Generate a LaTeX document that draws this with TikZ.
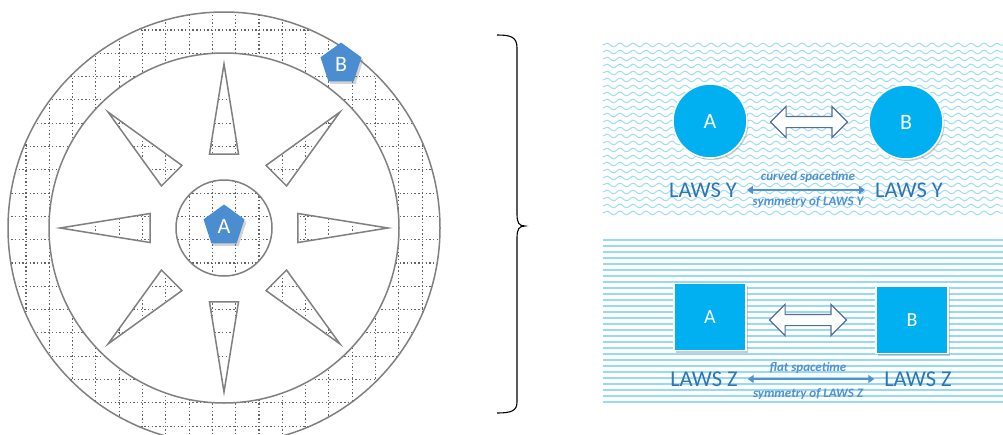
\documentclass[tikz,border=0pt]{standalone}
\usepackage{fontspec}
\setmainfont{Carlito}
\usetikzlibrary{shapes.geometric,shapes.arrows,shadows,decorations.pathmorphing,arrows.meta}
\definecolor{compassgray}{RGB}{128,128,128}
\definecolor{gridgray}{RGB}{100,100,100}
\definecolor{pentblue}{RGB}{74,141,208}
\definecolor{cyanfill}{RGB}{0,176,240}
\definecolor{lawsblue}{RGB}{46,117,182}
\definecolor{smallblue}{RGB}{80,145,208}
\definecolor{hollowedge}{RGB}{84,110,150}
\definecolor{waveblue}{RGB}{160,222,248}
\definecolor{lineblue}{RGB}{150,218,246}
\newcommand{\compassgrid}{%
  \foreach \k in {-10,...,9}{%
    \draw[gridline] ({235.65+\k*23.3},0) -- ({235.65+\k*23.3},460);
    \draw[gridline] (0,{239.65+\k*23.3}) -- (460,{239.65+\k*23.3});
  }}
\tikzset{
  gridline/.style={draw=gridgray, line width=1.1pt, dash pattern=on 1.4pt off 2.3pt},
  compass/.style={draw=compassgray, line width=1.5pt},
  pent/.style={regular polygon, regular polygon sides=5, minimum size=43pt, inner sep=0pt,
    fill=pentblue, text=white, font=\fontsize{22}{22}\selectfont,
    drop shadow={shadow xshift=2pt, shadow yshift=-2.5pt, opacity=0.35}},
  ball/.style={circle, minimum size=74pt, inner sep=0pt, fill=cyanfill, draw=white, line width=1.5pt,
    text=white, font=\fontsize{22}{22}\selectfont,
    drop shadow={shadow xshift=1.5pt, shadow yshift=-2pt, opacity=0.4}},
  box/.style={rectangle, minimum width=72pt, minimum height=67pt, inner sep=0pt, fill=cyanfill,
    draw=white, line width=1.5pt, text=white, font=\fontsize{20}{20}\selectfont,
    drop shadow={shadow xshift=1.5pt, shadow yshift=-2pt, opacity=0.4}},
  hollow/.style={double arrow, draw=hollowedge, line width=1.1pt, fill=white, inner xsep=0pt,
    inner ysep=5pt, minimum height=77pt, double arrow head extend=10pt, double arrow head indent=0pt},
  laws/.style={text=lawsblue, font=\fontsize{22.5}{22.5}\selectfont, inner sep=0pt, outer sep=10pt},
  small/.style={text=smallblue, font=\fontsize{13}{13}\selectfont\bfseries\itshape, inner sep=0pt},
  thinarrow/.style={draw=smallblue, line width=2pt, {Triangle[length=6pt,width=8pt]}-{Triangle[length=6pt,width=8pt]}},
  wave/.style={draw=waveblue, line width=1pt, decorate, decoration={snake, segment length=13pt, amplitude=1.8pt}},
  stripe/.style={draw=lineblue, line width=1.3pt}
}
\begin{document}
\begin{tikzpicture}[x=1pt,y=-1pt]
\useasboundingbox (0,0) rectangle (1003,434);
\coordinate (C) at (224,228);
% ring grid
\begin{scope}
  \clip (C) circle (216pt);
  \compassgrid
\end{scope}
\fill[white] (C) circle (175pt);
% centre grid
\begin{scope}
  \clip (C) circle (48pt);
  \compassgrid
\end{scope}
% spikes
\foreach \a in {0,45,...,315}{
  \begin{scope}
    \clip ([shift={(\a:164pt)}]C) -- ([shift={(\a+11.09:75.4pt)}]C) -- ([shift={(\a-11.09:75.4pt)}]C) -- cycle;
    \compassgrid
  \end{scope}
  \draw[compass, line join=miter] ([shift={(\a:164pt)}]C) -- ([shift={(\a+11.09:75.4pt)}]C) -- ([shift={(\a-11.09:75.4pt)}]C) -- cycle;
}
\draw[compass] (C) circle (216pt);
\draw[compass] (C) circle (175pt);
\draw[compass] (C) circle (48pt);
\node[pent] (pentA) at (224,226) {A};
\node[pent] (pentB) at (341,64) {B};
% brace
\draw[black, line width=1.1pt] (497,35) .. controls (511,35) and (517,37) .. (517,48) -- (517,214)
  .. controls (517,223) and (519,226) .. (525,226) .. controls (519,226) and (517,229) .. (517,238)
  -- (517,402) .. controls (517,411) and (511,413) .. (497,413);
% top panel waves
\foreach \y in {45,52,...,213}{
  \draw[wave] (603,\y) -- (1003,\y);
}
% bottom panel stripes
\foreach \y in {240,246,...,405}{
  \draw[stripe] (603,\y) -- (1003,\y);
}
% top panel content
\node[ball] (cA) at (710,121) {A};
\node[ball] (cB) at (906,122) {B};
\node[hollow] (hY) at (809,122) {};
\node[laws] (lawsYL) at (703,190) {LAWS Y};
\node[laws] (lawsYR) at (909,190) {LAWS Y};
\draw[thinarrow] (lawsYL.east) -- (lawsYR.west);
\node[small] (curv) at (808,177) {curved spacetime};
\node[small] (symY) at (808,202) {symmetry of LAWS Y};
% bottom panel content
\node[box] (sA) at (710,317) {A};
\node[box] (sB) at (912,320) {B};
\node[hollow] (hZ) at (808,320) {};
\node[laws] (lawsZL) at (704,379) {LAWS Z};
\node[laws] (lawsZR) at (918,379) {LAWS Z};
\draw[thinarrow] (lawsZL.east) -- (lawsZR.west);
\node[small] (flat) at (808,368) {flat spacetime};
\node[small] (symZ) at (808,394) {symmetry of LAWS Z};
\end{tikzpicture}
\end{document}
